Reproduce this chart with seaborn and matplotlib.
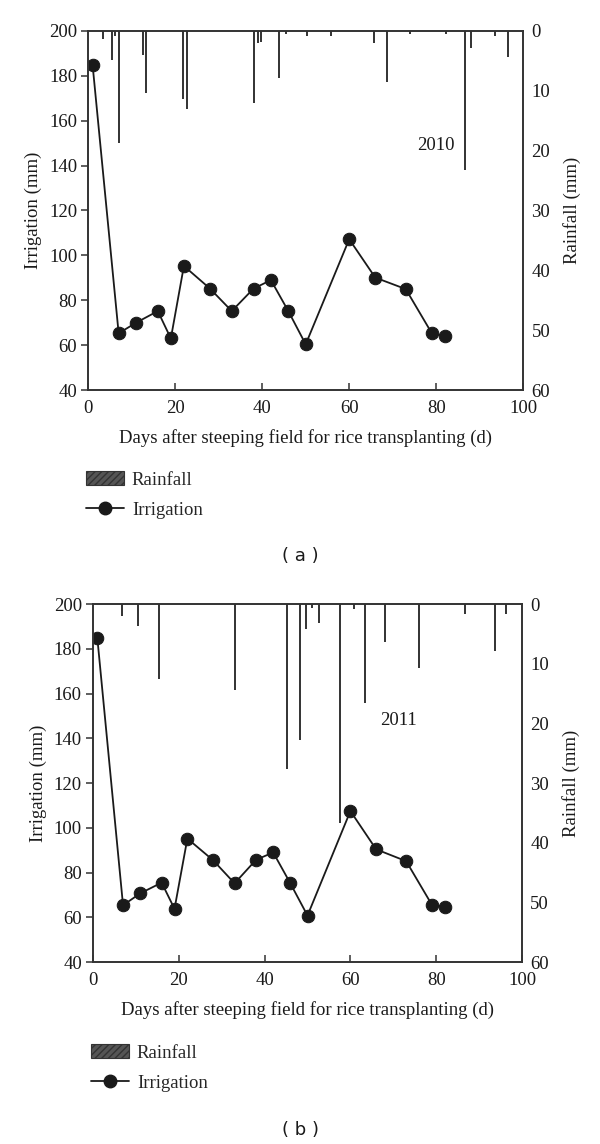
import numpy as np
import pandas as pd
import matplotlib
matplotlib.use("Agg")
import matplotlib.pyplot as plt
from matplotlib.patches import Patch
from matplotlib.lines import Line2D
import seaborn as sns

# --- data ---
irr_days = [1, 7, 11, 16, 19, 22, 28, 33, 38, 42, 46, 50, 60, 66, 73, 79, 82]
irr_2010 = [185, 65.3, 70.0, 75.2, 63.0, 95.3, 85.2, 75.2, 85.2, 89.0, 75.2, 60.4, 107.2, 90.1, 85.0, 65.3, 64.2]
irr_2011 = [185, 65.4, 70.7, 75.5, 63.8, 95.2, 85.5, 75.2, 85.7, 89.0, 75.2, 60.8, 107.5, 90.4, 85.1, 65.6, 64.6]

rain_days_2010 = [3.4, 5.4, 6.2, 7.0, 12.6, 13.3, 21.8, 22.6, 38.1, 39.0, 39.8, 43.9, 45.4, 50.3,
                  55.9, 65.8, 68.7, 73.9, 82.2, 86.7, 87.9, 93.6, 96.5]
rain_2010 = [1.3, 4.8, 0.8, 18.8, 4.0, 10.4, 11.4, 13.1, 12.1, 2.1, 1.9, 7.9, 0.5, 0.8,
             0.8, 2.1, 8.5, 0.6, 0.5, 23.3, 2.8, 0.8, 4.3]

rain_days_2011 = [6.7, 10.4, 15.3, 33.1, 45.2, 48.2, 49.7, 51.1, 52.6, 57.6, 60.9, 63.3,
                  68.1, 75.9, 86.7, 93.8, 96.2]
rain_2011 = [2.0, 3.7, 12.6, 14.4, 27.7, 22.8, 4.1, 0.6, 3.2, 36.7, 0.9, 16.6,
             6.3, 10.7, 1.7, 7.9, 1.7]

irr_ticks = [40, 60, 80, 100, 120, 140, 160, 180, 200]
rain_ticks = [0, 10, 20, 30, 40, 50, 60]
day_ticks = [0, 20, 40, 60, 80, 100]

panels = [
    {"year": "2010", "irr": irr_2010, "rd": rain_days_2010, "rain": rain_2010,
     "rect": [0.147, 0.659, 0.725, 0.314], "tag": "( a )", "tag_y": 1 - 556 / 1144,
     "leg_y": 1 - 471 / 1144, "leg_x": 86 / 600, "txt": (80, 149)},
    {"year": "2011", "irr": irr_2011, "rd": rain_days_2011, "rain": rain_2011,
     "rect": [0.155, 0.159, 0.715, 0.313], "tag": "( b )", "tag_y": 1 - 1130 / 1144,
     "leg_y": 1 - 1044 / 1144, "leg_x": 91 / 600, "txt": (71.2, 148)},
]

sns.set_style("ticks")
plt.rcParams["font.family"] = ["Liberation Serif", "DejaVu Serif"]
plt.rcParams["font.size"] = 13.5
plt.rcParams["axes.linewidth"] = 1.2
plt.rcParams["axes.edgecolor"] = "#333333"

ink = "#1a1a1a"
fig = plt.figure(figsize=(6, 11.44), dpi=100)

for p in panels:
    ax = fig.add_axes(p["rect"])
    df = pd.DataFrame({"day": irr_days, "irrigation": p["irr"]})
    sns.lineplot(data=df, x="day", y="irrigation", ax=ax, color=ink, lw=1.3,
                 marker="o", markersize=9, markeredgecolor=ink)
    ax.set_xlim(0, 100)
    ax.set_ylim(40, 200)
    ax.set_xticks(day_ticks)
    ax.set_yticks(irr_ticks)
    ax.tick_params(axis="x", direction="in", length=5, width=1.1, colors="#333333",
                   labelcolor=ink, pad=7)
    ax.tick_params(axis="y", direction="out", length=5, width=1.1, colors="#333333",
                   labelcolor=ink, pad=3)
    ax.set_xlabel("Days after steeping field for rice transplanting (d)", color=ink, labelpad=9)
    ax.set_ylabel("Irrigation (mm)", color=ink, labelpad=5)
    ax.text(p["txt"][0], p["txt"][1], p["year"], color=ink, fontsize=13.5,
            ha="center", va="center")

    ax2 = ax.twinx()
    ax2.vlines(p["rd"], 0, p["rain"], color="#222222", lw=1.3)
    ax2.set_ylim(60, 0)
    ax2.set_yticks(rain_ticks)
    ax2.tick_params(axis="y", length=0, pad=6, labelcolor=ink)
    ax2.set_ylabel("Rainfall (mm)", color=ink, labelpad=9)
    for s in ax2.spines.values():
        s.set_linewidth(1.2)

    handles = [Patch(facecolor="#555555", edgecolor="#333333", hatch="/////", lw=0.8),
               Line2D([], [], color=ink, lw=1.3, marker="o", markersize=9)]
    fig.legend(handles, ["Rainfall", "Irrigation"], loc="upper left",
               bbox_to_anchor=(p["leg_x"], p["leg_y"]), frameon=False,
               borderpad=0, borderaxespad=0, handlelength=2.0, handleheight=0.8,
               handletextpad=0.45, labelspacing=0.65, fontsize=13.5)

    fig.text(0.5, p["tag_y"], p["tag"], ha="center", va="center",
             family="DejaVu Sans", fontsize=13, color=ink)

fig.savefig("out.png", dpi=100)
